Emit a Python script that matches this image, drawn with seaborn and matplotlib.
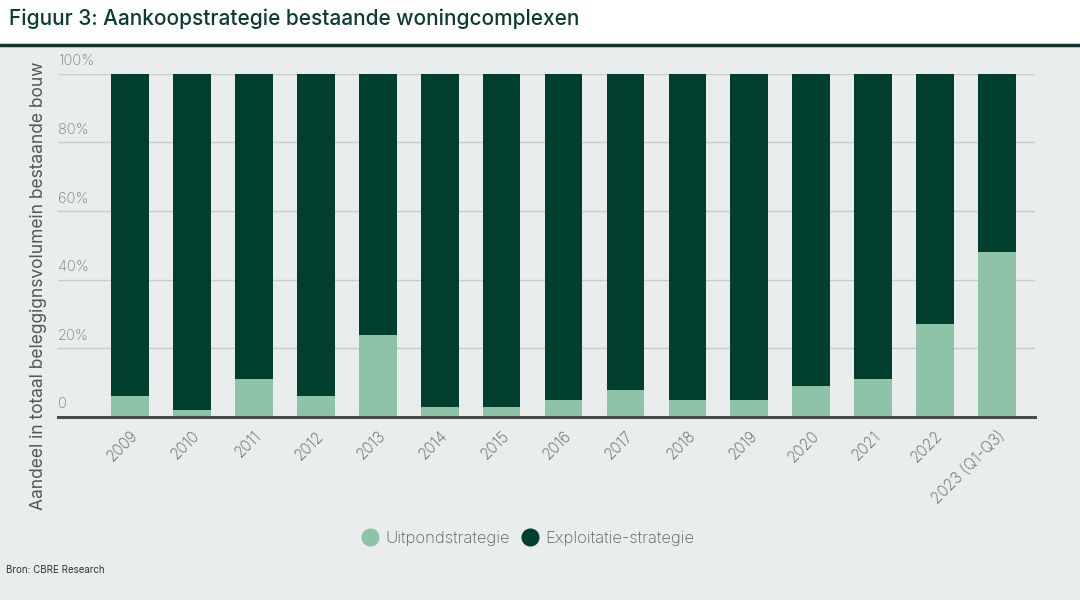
import matplotlib
matplotlib.use("Agg")
import matplotlib.pyplot as plt
import matplotlib.transforms as mtransforms
import seaborn as sns
import pandas as pd

# data (share in %)
jaren = ['2009', '2010', '2011', '2012', '2013', '2014', '2015', '2016',
         '2017', '2018', '2019', '2020', '2021', '2022', '2023 (Q1-Q3)']
uitpond = [6, 2, 11, 6, 24, 3, 3, 5, 8, 5, 5, 9, 11, 27, 48]
exploitatie = [94, 98, 89, 94, 76, 97, 97, 95, 92, 95, 95, 91, 89, 73, 52]
y_ticks = [0, 20, 40, 60, 80, 100]
y_labels = ['0', '20%', '40%', '60%', '80%', '100%']

donker = '#003F2D'
licht = '#8FC3A8'
achtergrond = '#E9EDED'
grijs = '#5e5e5e'

df = pd.DataFrame({'jaar': jaren, 'uitpond': uitpond, 'exploitatie': exploitatie})
df['totaal'] = df['uitpond'] + df['exploitatie']

sns.set_style('white')
plt.rcParams['font.family'] = ['Inter', 'DejaVu Sans']

fig = plt.figure(figsize=(10.8, 6), dpi=100, facecolor=achtergrond)
# witte titelbalk
fig.patches.append(plt.Rectangle((0, 0.925), 1, 0.075, transform=fig.transFigure,
                                 facecolor='white', edgecolor='none', zorder=0))
fig.add_artist(plt.Line2D([0, 1], [0.925, 0.925], transform=fig.transFigure,
                          color='#0f3530', lw=2.5))
fig.text(0.008, 0.968, 'Figuur 3: Aankoopstrategie bestaande woningcomplexen',
         fontsize=15, color='#0d3b32', va='center', ha='left', fontweight='medium')

ax = fig.add_axes([0.0537, 0.305, 0.9046, 0.572])
ax.set_facecolor(achtergrond)

sns.barplot(data=df, x='jaar', y='totaal', color=donker, width=0.61,
            saturation=1, linewidth=0, ax=ax, zorder=3)
sns.barplot(data=df, x='jaar', y='uitpond', color=licht, width=0.61,
            saturation=1, linewidth=0, ax=ax, zorder=4)

ax.set_ylim(0, 100)
ax.set_xlim(-1.16, 14.61)
ax.set_yticks(y_ticks)
ax.set_yticklabels([])
ax.tick_params(axis='y', length=0)
ax.grid(axis='y', color='#c9cccc', lw=1, zorder=0)
ax.grid(axis='x', visible=False)
for s in ['top', 'right', 'left']:
    ax.spines[s].set_visible(False)
ax.spines['bottom'].set_color('#4a4a4a')
ax.spines['bottom'].set_linewidth(2.2)
ax.spines['bottom'].set_zorder(5)

trans = mtransforms.blended_transform_factory(ax.transAxes, ax.transData)
for v, lab in zip(y_ticks, y_labels):
    ax.annotate(lab, xy=(0, v), xycoords=trans, xytext=(0, 4), textcoords='offset points',
                ha='left', va='bottom', fontsize=10.5, color='#7a7a7a', fontweight='light')

ax.set_xticks(range(len(jaren)))
ax.set_xticklabels(jaren, rotation=45, ha='right', rotation_mode='anchor',
                   fontsize=11, color=grijs, fontweight='light')
ax.tick_params(axis='x', length=0, pad=8)
ax.set_xlabel('')
ax.set_ylabel('')

fig.text(0.036, 0.523, 'Aandeel in totaal beleggignsvolumein bestaande bouw',
         rotation=90, ha='center', va='center', fontsize=12.5, color='#555555',
         bbox=dict(facecolor=achtergrond, edgecolor='none', pad=2))

handles = [plt.Line2D([], [], marker='o', ls='', markersize=12, color=licht),
           plt.Line2D([], [], marker='o', ls='', markersize=12, color=donker)]
leg = fig.legend(handles, ['Uitpondstrategie', 'Exploitatie-strategie'],
                 loc='center', bbox_to_anchor=(0.488, 0.103), ncol=2, frameon=False,
                 fontsize=12, handletextpad=0.3, columnspacing=0.6, handlelength=1.2)
for t in leg.get_texts():
    t.set_color(grijs)
    t.set_fontweight('light')

fig.text(0.006, 0.05, 'Bron: CBRE Research', fontsize=7, color='#333333', ha='left', va='center')

fig.savefig('out.png', dpi=100, facecolor=achtergrond)
